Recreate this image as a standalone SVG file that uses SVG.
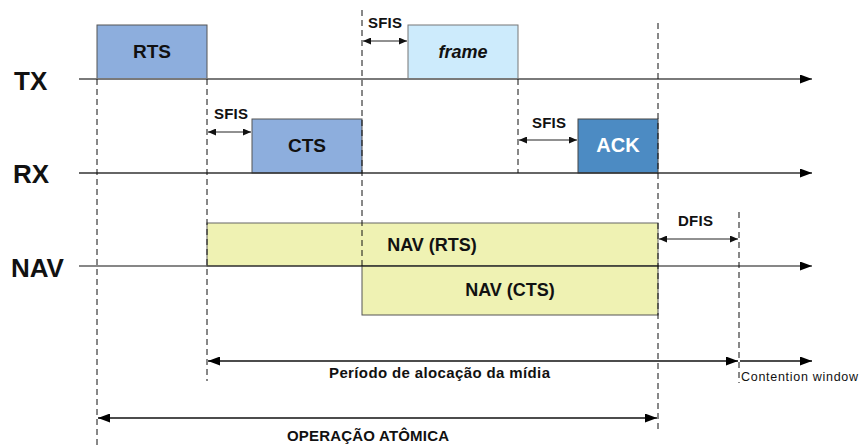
<svg xmlns="http://www.w3.org/2000/svg" width="859" height="445" viewBox="0 0 859 445">
  <style>
    .lbl { font-family: "Liberation Sans", Arial, sans-serif; fill: #111; }
    .axis-name { font-size: 26px; font-weight: bold; }
    .box-text { font-size: 19px; font-weight: bold; text-anchor: middle; }
    .gap { font-size: 15px; font-weight: bold; }
    .dash { stroke: #111; stroke-width: 1; stroke-dasharray: 6 4; fill: none; }
    .dim { stroke: #222; stroke-width: 1; fill: none; }
    .span { stroke: #111; stroke-width: 1.3; fill: none; }
  </style>
  <defs>
    <marker id="tip" markerUnits="userSpaceOnUse" markerWidth="13" markerHeight="9" refX="12" refY="4.5" orient="auto-start-reverse">
      <path d="M0,0 L12,4.5 L0,9 z" fill="#000"/>
    </marker>
    <marker id="small" markerUnits="userSpaceOnUse" markerWidth="9" markerHeight="7" refX="8" refY="3.5" orient="auto-start-reverse">
      <path d="M0,0 L8,3.5 L0,7 z" fill="#111"/>
    </marker>
  </defs>

  <rect width="859" height="445" fill="#fff"/>

  <!-- timeline names -->
  <text class="lbl axis-name" x="14" y="90">TX</text>
  <text class="lbl axis-name" x="13" y="183">RX</text>
  <text class="lbl axis-name" x="11" y="277">NAV</text>

  <!-- NAV reservation bars (drawn under the axes) -->
  <g id="nav-rts">
    <rect x="207" y="223" width="451" height="43" fill="#eff2b3" stroke="#666" stroke-width="1"/>
    <text class="lbl box-text" x="432" y="251" style="font-size:18px">NAV (RTS)</text>
  </g>
  <g id="nav-cts">
    <rect x="362" y="266" width="296" height="49" fill="#eff2b3" stroke="#555" stroke-width="1"/>
    <text class="lbl box-text" x="510" y="296" style="font-size:18px">NAV (CTS)</text>
  </g>

  <!-- frames -->
  <g id="rts">
    <rect x="97" y="25" width="110" height="54" fill="#8daedd" stroke="#555" stroke-width="1"/>
    <text class="lbl box-text" x="152" y="58">RTS</text>
  </g>
  <g id="frame">
    <rect x="408" y="25" width="110" height="54" fill="#cdebfc" stroke="#777" stroke-width="1"/>
    <text class="lbl box-text" x="463" y="58" style="font-style:italic;font-size:18px">frame</text>
  </g>
  <g id="cts">
    <rect x="252" y="119" width="110" height="54" fill="#8daedd" stroke="#555" stroke-width="1"/>
    <text class="lbl box-text" x="307" y="152">CTS</text>
  </g>
  <g id="ack">
    <rect x="578" y="119" width="80" height="54" fill="#4c8bc3" stroke="#444" stroke-width="1"/>
    <text class="lbl box-text" x="618" y="152" style="fill:#fff;font-size:20px">ACK</text>
  </g>

  <g id="connectors">
    <!-- time axes -->
    <line x1="79" y1="79" x2="812" y2="79" stroke="#7a7a7a" stroke-width="2" marker-end="url(#tip)"/>
    <line x1="79" y1="173" x2="812" y2="173" stroke="#333" stroke-width="1.3" marker-end="url(#tip)"/>
    <line x1="79" y1="266" x2="812" y2="266" stroke="#111" stroke-width="1.2" marker-end="url(#tip)"/>

    <!-- alignment guides -->
    <line class="dash" x1="97" y1="79" x2="97" y2="445"/>
    <line class="dash" x1="207" y1="79" x2="207" y2="381"/>
    <line class="dash" x1="362" y1="10" x2="362" y2="266"/>
    <line class="dash" x1="518" y1="79" x2="518" y2="173"/>
    <line class="dash" x1="658" y1="23" x2="658" y2="430"/>
    <line class="dash" x1="739" y1="212" x2="739" y2="383"/>

    <!-- inter-frame spaces -->
    <line class="dim" x1="363" y1="41" x2="407" y2="41" marker-start="url(#small)" marker-end="url(#small)"/>
    <line class="dim" x1="208" y1="132" x2="251" y2="132" marker-start="url(#small)" marker-end="url(#small)"/>
    <line class="dim" x1="519" y1="140" x2="577" y2="140" marker-start="url(#small)" marker-end="url(#small)"/>
    <line class="dim" x1="659" y1="239" x2="738" y2="239" marker-start="url(#small)" marker-end="url(#small)"/>

    <!-- medium allocation period and contention window -->
    <line class="span" x1="208" y1="361" x2="738" y2="361" marker-start="url(#tip)" marker-end="url(#tip)"/>
    <line class="span" x1="740" y1="361" x2="812" y2="361" marker-end="url(#tip)"/>

    <!-- atomic operation -->
    <line class="span" x1="98" y1="418" x2="657" y2="418" marker-start="url(#tip)" marker-end="url(#tip)"/>
  </g>

  <!-- interval labels -->
  <text class="lbl gap" x="368" y="28" textLength="34">SFIS</text>
  <text class="lbl gap" x="214" y="119" textLength="34">SFIS</text>
  <text class="lbl gap" x="532" y="128" textLength="34">SFIS</text>
  <text class="lbl gap" x="678" y="226" textLength="35">DFIS</text>

  <text class="lbl" x="329" y="378" font-size="15" font-weight="bold" textLength="221">Período de alocação da mídia</text>
  <text class="lbl" x="741" y="381" font-size="12.5" textLength="117">Contention window</text>
  <text class="lbl" x="287" y="441" font-size="15" font-weight="bold" textLength="162">OPERAÇÃO ATÔMICA</text>
</svg>
